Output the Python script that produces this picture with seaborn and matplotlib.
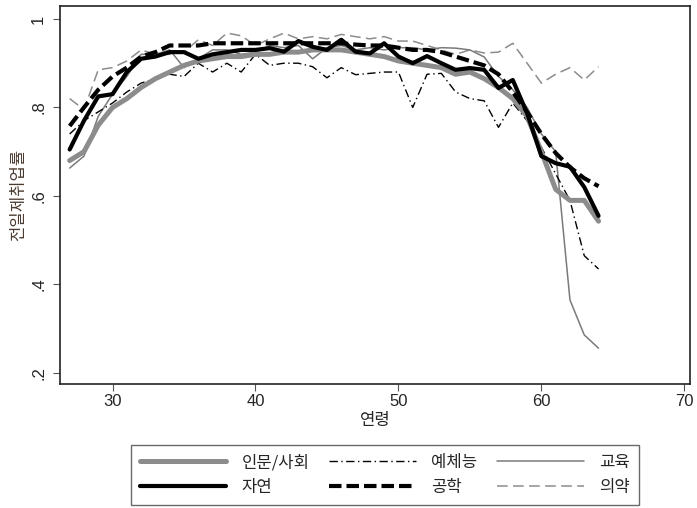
import numpy as np
import pandas as pd
import matplotlib
matplotlib.use("Agg")
import matplotlib.pyplot as plt
import seaborn as sns

ages = list(range(27, 65))

humanities = [0.68, 0.70, 0.76, 0.80, 0.82, 0.845, 0.865, 0.88, 0.895, 0.905,
              0.91, 0.915, 0.915, 0.92, 0.92, 0.925, 0.925, 0.93, 0.93, 0.93,
              0.925, 0.92, 0.915, 0.905, 0.90, 0.895, 0.89, 0.875, 0.88, 0.865,
              0.845, 0.82, 0.78, 0.70, 0.615, 0.59, 0.59, 0.543]
science = [0.705, 0.77, 0.825, 0.83, 0.88, 0.91, 0.915, 0.925, 0.925, 0.91,
           0.92, 0.925, 0.93, 0.93, 0.934, 0.926, 0.95, 0.937, 0.93, 0.953,
           0.926, 0.922, 0.945, 0.915, 0.90, 0.916, 0.90, 0.885, 0.889, 0.885,
           0.844, 0.862, 0.787, 0.69, 0.674, 0.666, 0.62, 0.555]
arts = [0.74, 0.77, 0.79, 0.81, 0.835, 0.855, 0.865, 0.875, 0.87, 0.90,
        0.88, 0.90, 0.88, 0.92, 0.895, 0.90, 0.90, 0.892, 0.867, 0.89,
        0.874, 0.877, 0.88, 0.88, 0.80, 0.875, 0.877, 0.835, 0.82, 0.815,
        0.755, 0.81, 0.77, 0.71, 0.65, 0.59, 0.465, 0.435]
engineering = [0.758, 0.80, 0.84, 0.87, 0.89, 0.915, 0.925, 0.94, 0.94, 0.94,
               0.945, 0.945, 0.945, 0.945, 0.945, 0.945, 0.945, 0.945, 0.945, 0.945,
               0.942, 0.94, 0.94, 0.935, 0.93, 0.93, 0.925, 0.915, 0.905, 0.895,
               0.875, 0.835, 0.79, 0.74, 0.697, 0.665, 0.64, 0.622]
education = [0.663, 0.69, 0.78, 0.83, 0.87, 0.92, 0.92, 0.93, 0.89, 0.91,
             0.93, 0.93, 0.92, 0.925, 0.94, 0.935, 0.94, 0.91, 0.935, 0.94,
             0.93, 0.935, 0.93, 0.935, 0.935, 0.93, 0.935, 0.934, 0.93, 0.914,
             0.87, 0.84, 0.80, 0.74, 0.70, 0.365, 0.286, 0.256]
medicine = [0.82, 0.795, 0.885, 0.89, 0.905, 0.93, 0.92, 0.92, 0.925, 0.953,
            0.94, 0.968, 0.962, 0.94, 0.955, 0.968, 0.955, 0.96, 0.955, 0.965,
            0.96, 0.955, 0.96, 0.95, 0.95, 0.94, 0.93, 0.92, 0.93, 0.923,
            0.925, 0.945, 0.90, 0.855, 0.875, 0.89, 0.862, 0.892]

labels = ["인문/사회", "자연", "예체능", "공학", "교육", "의약"]
series = [humanities, science, arts, engineering, education, medicine]

x_ticks = [30, 40, 50, 60, 70]
y_ticks = [0.2, 0.4, 0.6, 0.8, 1.0]
y_ticklabels = [".2", ".4", ".6", ".8", "1"]

sns.set_style("ticks")
plt.rcParams['font.family'] = ['Liberation Sans', 'Noto Sans CJK KR', 'DejaVu Sans']

styles = {
    "인문/사회": dict(color="#8c8c8c", lw=3.6, ls="-"),
    "자연": dict(color="black", lw=3.0, ls="-"),
    "예체능": dict(color="black", lw=1.0, ls=(0, (6, 2.5, 1, 2.5))),
    "공학": dict(color="black", lw=3.0, ls=(0, (3, 1.2))),
    "교육": dict(color="#7a7a7a", lw=1.1, ls="-"),
    "의약": dict(color="#8c8c8c", lw=1.1, ls=(0, (7, 3.5))),
}

fig = plt.figure(figsize=(6.97, 5.08), dpi=100)
ax = fig.add_axes([0.086, 0.244, 0.904, 0.744])

draw_order = ["의약", "교육", "예체능", "인문/사회", "공학", "자연"]
handles = {}
for lab in draw_order:
    vals = series[labels.index(lab)]
    df = pd.DataFrame({"age": ages, "rate": vals})
    st = styles[lab]
    sns.lineplot(data=df, x="age", y="rate", ax=ax, color=st["color"],
                 linewidth=st["lw"], linestyle=st["ls"], label=lab, legend=False)
    handles[lab] = ax.lines[-1]

ax.set_xlim(26.32, 70.4)
ax.set_ylim(0.175, 1.029)
ax.set_xticks(x_ticks)
ax.set_yticks(y_ticks)
ax.set_yticklabels(y_ticklabels, rotation=90, va="center")
ax.tick_params(axis="both", labelsize=12, length=5, width=0.8, color="#555555")
ax.tick_params(axis="x", pad=2)
ax.tick_params(axis="y", pad=5)
for s in ax.spines.values():
    s.set_visible(True)
    s.set_linewidth(1.2)
    s.set_color("#222222")

ax.set_xlabel("연령", fontsize=12, labelpad=2, family=['Noto Sans CJK KR'])
ax.set_ylabel("전일제취업률", fontsize=12, labelpad=3, family=['Noto Sans CJK KR'], color="#4a3a30")

order = ["인문/사회", "자연", "예체능", "공학", "교육", "의약"]
leg = fig.legend([handles[l] for l in order], order, loc="lower center",
                 bbox_to_anchor=(0.552, -0.01), ncol=3, frameon=True, fancybox=False,
                 edgecolor="#444444", handlelength=5.2, columnspacing=1.2,
                 handletextpad=0.9, borderpad=0.55, labelspacing=0.45,
                 prop={'family': ['Noto Sans CJK KR'], 'size': 12})
leg.get_frame().set_linewidth(1.0)

fig.savefig("out.png", dpi=100)
